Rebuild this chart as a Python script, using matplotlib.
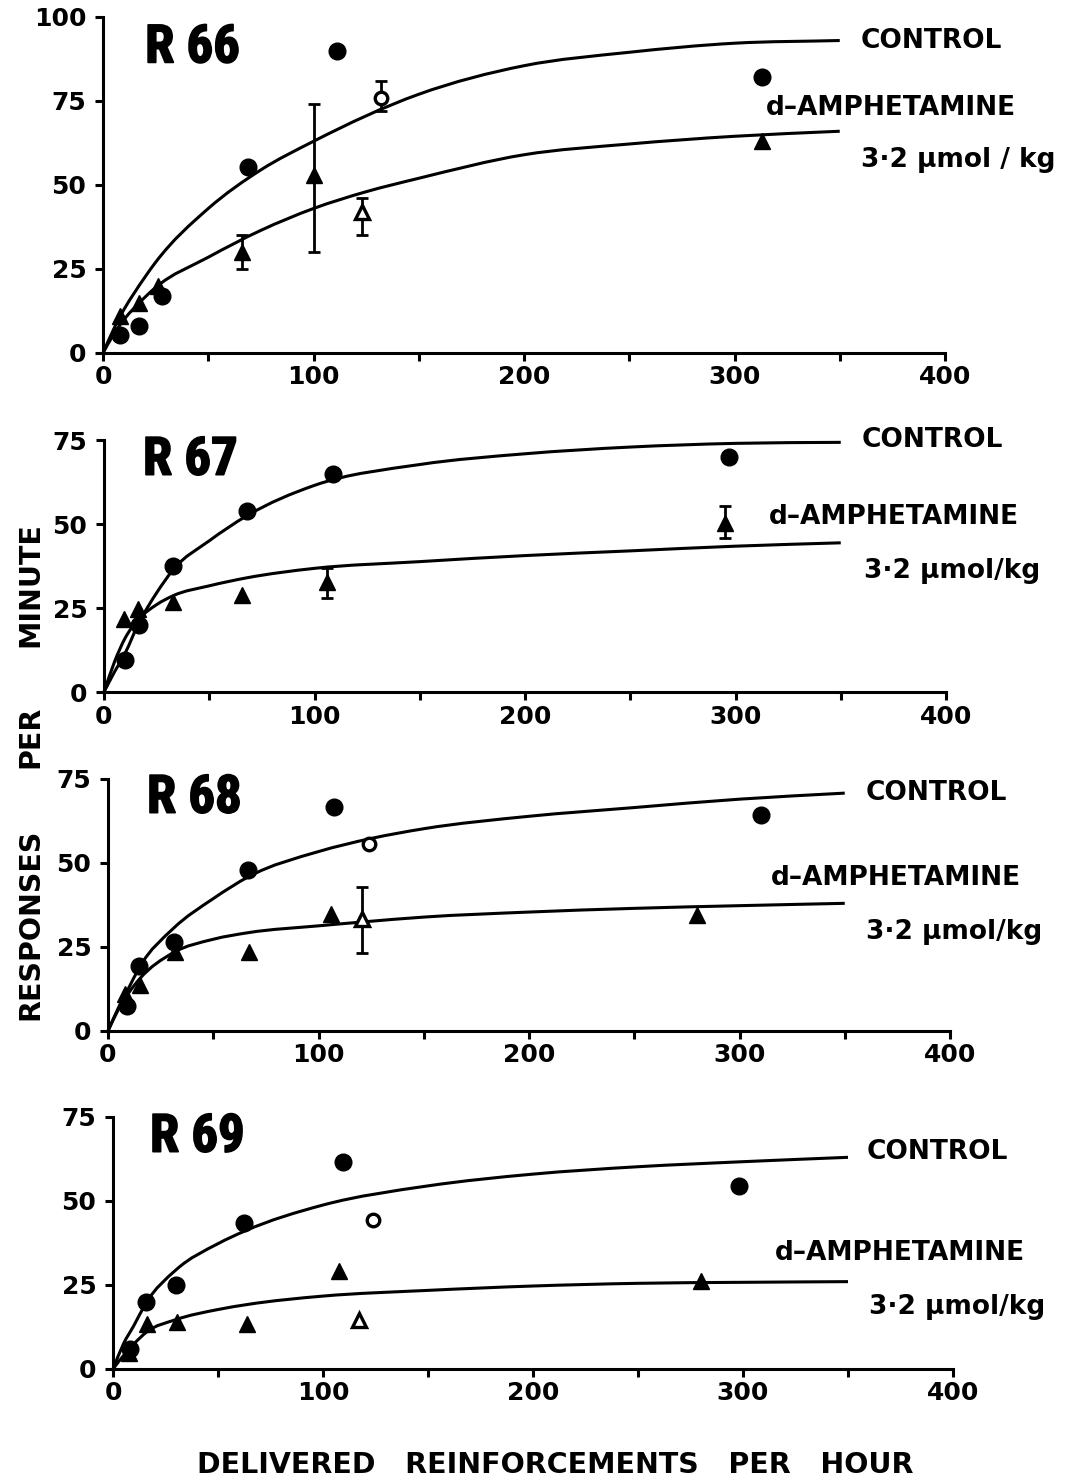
import matplotlib
matplotlib.use("Agg")
import matplotlib.pyplot as plt
from matplotlib import font_manager as fm
from matplotlib.path import Path
from matplotlib.patches import PathPatch
import matplotlib.patheffects as pe

# ---------------- data ----------------
# R66
r66_ctrl_x = [8, 17, 28, 69, 111, 313]
r66_ctrl_y = [5.5, 8, 17, 55.5, 90, 82]
r66_ctrl_open_x = [132]
r66_ctrl_open_y = [76]
r66_ctrl_open_lo = [72]
r66_ctrl_open_hi = [81]
r66_dose_x = [8, 17, 26, 66, 100, 313]
r66_dose_y = [11, 15, 20, 30, 53, 63]
r66_dose_lo = [None, None, None, 25, 30, None]
r66_dose_hi = [None, None, None, 35, 74, None]
r66_dose_open_x = [123]
r66_dose_open_y = [42]
r66_dose_open_lo = [35]
r66_dose_open_hi = [46]
r66_ctrl_fit_x = [0, 5, 10, 15, 25, 50, 75, 100, 150, 200, 250, 300, 350]
r66_ctrl_fit_y = [0, 7, 13, 18, 27, 43, 54.5, 63, 77, 85.5, 89.5, 92.2, 93]
r66_dose_fit_x = [0, 5, 10, 15, 25, 50, 75, 100, 125, 150, 200, 250, 300, 350]
r66_dose_fit_y = [0, 5.5, 10, 13.5, 19.5, 28.5, 36.5, 43, 48, 52, 59, 62.2, 64.5, 66]

# R67
r67_ctrl_x = [10, 16.5, 33, 68, 109, 297]
r67_ctrl_y = [9.6, 20, 37.5, 54, 65, 70]
r67_dose_x = [9.6, 16, 32.7, 65.6, 106, 295]
r67_dose_y = [21.7, 24.7, 26.7, 29, 32.6, 50.3]
r67_dose_lo = [None, None, None, None, 28, 45.8]
r67_dose_hi = [None, None, None, None, 37, 55.4]
r67_ctrl_fit_x = [0, 5, 10, 16.5, 25, 33, 50, 68, 100, 150, 200, 250, 300, 350]
r67_ctrl_fit_y = [0, 6, 11.5, 20.5, 29.5, 36.5, 45, 52.5, 61.5, 67.7, 70.9, 72.9, 74, 74.3]
r67_dose_fit_x = [0, 5, 10, 17, 25, 33, 50, 68, 100, 150, 200, 250, 300, 350]
r67_dose_fit_y = [0, 9, 16, 22, 26, 28.7, 31.6, 34, 36.8, 38.8, 40.6, 42, 43.4, 44.4]

# R68
r68_ctrl_x = [9.2, 14.6, 31.2, 66.7, 107.6, 310]
r68_ctrl_y = [7.5, 19.2, 26.5, 47.8, 66.7, 64.3]
r68_ctrl_open_x = [124]
r68_ctrl_open_y = [55.8]
r68_dose_x = [8, 15.4, 31.6, 67, 106, 280]
r68_dose_y = [11, 13.6, 23.5, 23.5, 34.7, 34.5]
r68_dose_open_x = [120.5]
r68_dose_open_y = [33.4]
r68_dose_open_lo = [23.2]
r68_dose_open_hi = [42.9]
r68_ctrl_fit_x = [0, 5, 10, 15, 31, 50, 67, 100, 125, 150, 200, 250, 300, 350]
r68_ctrl_fit_y = [0, 7, 13, 19, 30.5, 39.4, 46, 53.4, 57.3, 60.2, 63.9, 66.5, 69, 70.8]
r68_dose_fit_x = [0, 5, 10, 15, 31, 50, 67, 100, 120, 150, 200, 250, 300, 350]
r68_dose_fit_y = [0, 6.5, 11.5, 15.5, 23.3, 27.3, 29.3, 31.3, 32.4, 33.9, 35.4, 36.5, 37.3, 38]

# R69
r69_ctrl_x = [8, 15.6, 30, 62.5, 109.6, 298]
r69_ctrl_y = [6, 20, 25, 43.4, 61.6, 54.5]
r69_ctrl_open_x = [123.8]
r69_ctrl_open_y = [44.4]
r69_dose_x = [7.5, 16, 30.4, 64, 107.6, 280]
r69_dose_y = [4.8, 13.5, 14, 13.5, 29.2, 26.2]
r69_dose_open_x = [117]
r69_dose_open_y = [14.7]
r69_ctrl_fit_x = [0, 5, 10, 15.6, 30, 50, 62.5, 100, 150, 200, 250, 300, 350]
r69_ctrl_fit_y = [0, 7.5, 13, 19.5, 29.5, 37.3, 41, 48.8, 54.5, 58, 60.2, 61.7, 63]
r69_dose_fit_x = [0, 5, 10, 16, 30, 50, 64, 100, 150, 200, 250, 300, 350]
r69_dose_fit_y = [0, 4, 7.5, 11, 14.7, 17.7, 19.2, 21.7, 23.4, 24.7, 25.5, 25.8, 26]

panel_names = ["R 66", "R 67", "R 68", "R 69"]
y_maxes = [100, 75, 75, 75]
x_ticks_major = [0, 100, 200, 300, 400]
label_control = "CONTROL"
label_drug = "d\u2013AMPHETAMINE"
label_dose = ["3\u00b72 \u03bcmol / kg", "3\u00b72 \u03bcmol/kg", "3\u00b72 \u03bcmol/kg", "3\u00b72 \u03bcmol/kg"]
y_label_words = ["RESPONSES", "PER", "MINUTE"]
x_label = "DELIVERED   REINFORCEMENTS   PER   HOUR"

# ---------------- fonts ----------------
names = {f.name for f in fm.fontManager.ttflist}
def pick(cands):
    for c in cands:
        if c in names:
            return c
    return "DejaVu Sans"
title_font = pick(["Liberation Sans Narrow", "Roboto Condensed", "DejaVu Sans"])
main_font = "DejaVu Sans"
plt.rcParams["font.family"] = [main_font]


def smooth_curve(ax, xs, ys, lw):
    """Draw the read points as one smooth cubic-Bezier path (Hermite tangents in x)."""
    n = len(xs)
    h = [xs[i + 1] - xs[i] for i in range(n - 1)]
    d = [(ys[i + 1] - ys[i]) / h[i] for i in range(n - 1)]
    m = [d[0]]
    for i in range(1, n - 1):
        m.append((d[i - 1] * h[i] + d[i] * h[i - 1]) / (h[i - 1] + h[i]))
    m.append(d[-1])
    verts = [(xs[0], ys[0])]
    codes = [Path.MOVETO]
    for i in range(n - 1):
        verts += [(xs[i] + h[i] / 3, ys[i] + m[i] * h[i] / 3),
                  (xs[i + 1] - h[i] / 3, ys[i + 1] - m[i + 1] * h[i] / 3),
                  (xs[i + 1], ys[i + 1])]
        codes += [Path.CURVE4] * 3
    ax.add_patch(PathPatch(Path(verts, codes), facecolor="none", edgecolor="black", lw=lw,
                           transform=ax.transData, clip_on=False, capstyle="butt"))


fig = plt.figure(figsize=(10.8, 14.83), dpi=100)
W, H = 1080.0, 1483.0
geo = [(103, 945, 353, 17), (104, 946, 692, 440), (108, 950, 1031, 779), (113, 953, 1369, 1117)]

title_pos = [(20, 90.8), (18.5, 69), (18.5, 69.3), (17.6, 69)]
ctrl_lab_pos = [(360, 93), (360, 75), (360, 70.8), (359, 64.6)]
drug_lab_pos = [(315, 73), (316, 52), (315, 45.5), (315, 34.5)]
dose_lab_pos = [(360, 57.5), (361, 36), (360, 29.5), (360, 18.5)]

panels = [
    dict(cx=r66_ctrl_x, cy=r66_ctrl_y, dx=r66_dose_x, dy=r66_dose_y, dlo=r66_dose_lo, dhi=r66_dose_hi,
         cox=r66_ctrl_open_x, coy=r66_ctrl_open_y, colo=r66_ctrl_open_lo, cohi=r66_ctrl_open_hi,
         dox=r66_dose_open_x, doy=r66_dose_open_y, dolo=r66_dose_open_lo, dohi=r66_dose_open_hi,
         cfx=r66_ctrl_fit_x, cfy=r66_ctrl_fit_y, dfx=r66_dose_fit_x, dfy=r66_dose_fit_y),
    dict(cx=r67_ctrl_x, cy=r67_ctrl_y, dx=r67_dose_x, dy=r67_dose_y, dlo=r67_dose_lo, dhi=r67_dose_hi,
         cox=[], coy=[], colo=None, cohi=None, dox=[], doy=[], dolo=None, dohi=None,
         cfx=r67_ctrl_fit_x, cfy=r67_ctrl_fit_y, dfx=r67_dose_fit_x, dfy=r67_dose_fit_y),
    dict(cx=r68_ctrl_x, cy=r68_ctrl_y, dx=r68_dose_x, dy=r68_dose_y, dlo=None, dhi=None,
         cox=r68_ctrl_open_x, coy=r68_ctrl_open_y, colo=None, cohi=None,
         dox=r68_dose_open_x, doy=r68_dose_open_y, dolo=r68_dose_open_lo, dohi=r68_dose_open_hi,
         cfx=r68_ctrl_fit_x, cfy=r68_ctrl_fit_y, dfx=r68_dose_fit_x, dfy=r68_dose_fit_y),
    dict(cx=r69_ctrl_x, cy=r69_ctrl_y, dx=r69_dose_x, dy=r69_dose_y, dlo=None, dhi=None,
         cox=r69_ctrl_open_x, coy=r69_ctrl_open_y, colo=None, cohi=None,
         dox=r69_dose_open_x, doy=r69_dose_open_y, dolo=None, dohi=None,
         cfx=r69_ctrl_fit_x, cfy=r69_ctrl_fit_y, dfx=r69_dose_fit_x, dfy=r69_dose_fit_y),
]

LW = 2.2
EB = dict(fmt="none", ecolor="black", elinewidth=2.0, capsize=4.5, capthick=2.0, clip_on=False)
for i, p in enumerate(panels):
    x0, x4, yb, yt = geo[i]
    ax = fig.add_axes([x0 / W, 1 - yb / H, (x4 - x0) / W, (yb - yt) / H])
    ymax = y_maxes[i]
    ax.set_xlim(0, 400)
    ax.set_ylim(0, ymax)
    for s in ["top", "right"]:
        ax.spines[s].set_visible(False)
    for s in ["left", "bottom"]:
        ax.spines[s].set_linewidth(LW)
    ax.set_xticks(list(range(0, 401, 50)))
    ax.set_xticklabels([str(v) if v in x_ticks_major else "" for v in range(0, 401, 50)])
    ax.set_yticks(list(range(0, ymax + 1, 25)))
    ax.tick_params(direction="out", length=6, width=LW, labelsize=18, pad=3)
    ax.tick_params(axis="y", pad=6)
    for lab in ax.get_xticklabels() + ax.get_yticklabels():
        lab.set_fontweight("bold")
    ax.patch.set_alpha(0)

    # fitted curves
    smooth_curve(ax, p["cfx"], p["cfy"], LW)
    smooth_curve(ax, p["dfx"], p["dfy"], LW)

    # error bars
    if p["dlo"] is not None:
        for xv, yv, lo, hi in zip(p["dx"], p["dy"], p["dlo"], p["dhi"]):
            if lo is None:
                continue
            ax.errorbar([xv], [yv], yerr=[[yv - lo], [hi - yv]], **EB)
    if p["colo"] is not None:
        ax.errorbar(p["cox"], p["coy"],
                    yerr=[[y - l for y, l in zip(p["coy"], p["colo"])], [h - y for y, h in zip(p["coy"], p["cohi"])]], **EB)
    if p["dolo"] is not None:
        ax.errorbar(p["dox"], p["doy"],
                    yerr=[[y - l for y, l in zip(p["doy"], p["dolo"])], [h - y for y, h in zip(p["doy"], p["dohi"])]], **EB)

    # markers
    ax.plot(p["cx"], p["cy"], "o", color="black", ms=12, clip_on=False, zorder=5)
    ax.plot(p["dx"], p["dy"], "^", color="black", ms=11, clip_on=False, zorder=5)
    if p["cox"]:
        ax.plot(p["cox"], p["coy"], "o", mfc="white", mec="black", mew=2.4, ms=9, clip_on=False, zorder=6)
    if p["dox"]:
        ax.plot(p["dox"], p["doy"], "^", mfc="white", mec="black", mew=2.4, ms=10, clip_on=False, zorder=6)

    # texts
    tx, ty = title_pos[i]
    ax.text(tx, ty, panel_names[i], family=title_font, fontweight="bold", fontstretch="condensed",
            fontsize=38, ha="left", va="center", clip_on=False,
            path_effects=[pe.withStroke(linewidth=1.2, foreground="black")])
    cx_, cy_ = ctrl_lab_pos[i]
    ax.text(cx_, cy_, label_control, fontsize=19, fontweight="bold", ha="left", va="center", clip_on=False)
    dx_, dy_ = drug_lab_pos[i]
    ax.text(dx_, dy_, label_drug, fontsize=19, fontweight="bold", ha="left", va="center", clip_on=False)
    sx_, sy_ = dose_lab_pos[i]
    ax.text(sx_, sy_, label_dose[i], fontsize=19, fontweight="bold", ha="left", va="center", clip_on=False)

# axis labels
ylab_centers = [924, 737, 585]
for word, yc in zip(y_label_words, ylab_centers):
    fig.text(30 / W, 1 - yc / H, word, rotation=90, fontsize=20.5, fontweight="bold",
             ha="center", va="center")
fig.text(555 / W, 1 - 1465 / H, x_label, fontsize=20.5, fontweight="bold", ha="center", va="center")

fig.savefig("out.png", dpi=100, facecolor="white")
